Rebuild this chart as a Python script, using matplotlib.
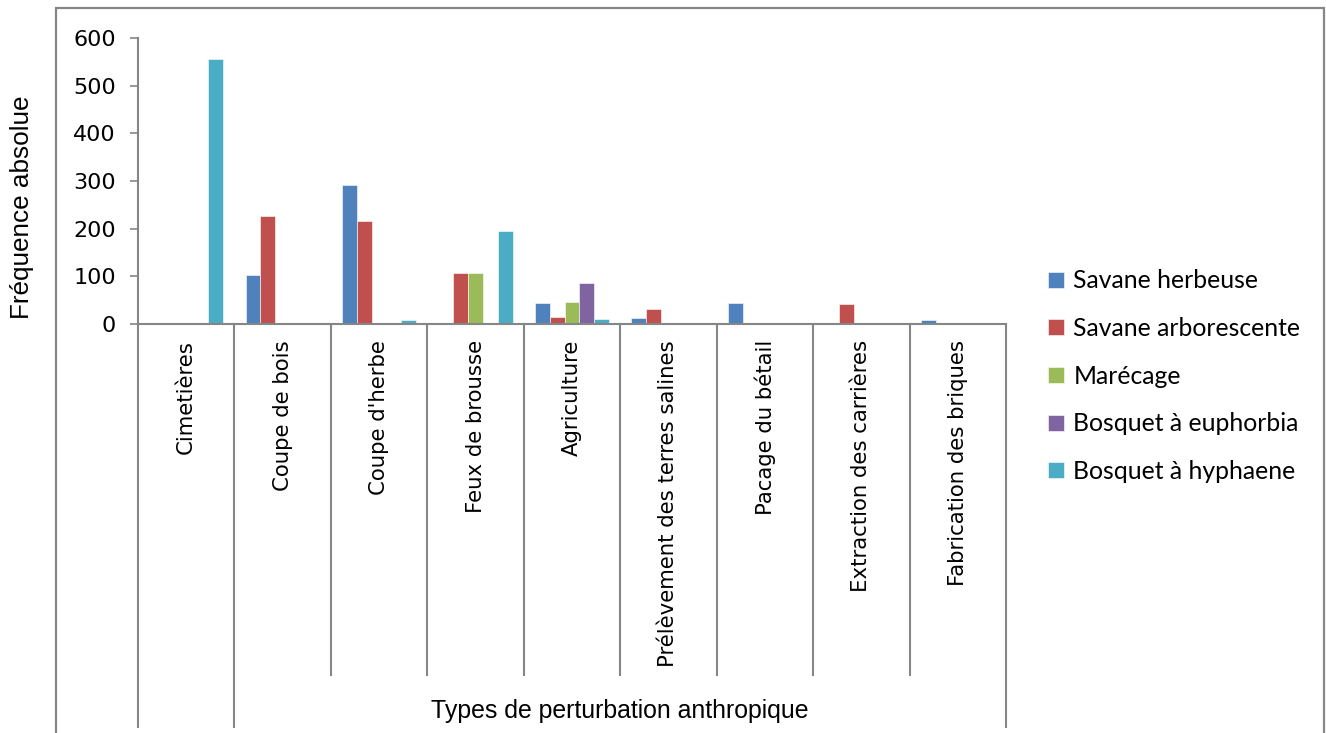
import numpy as np
import matplotlib
matplotlib.use("Agg")
import matplotlib.pyplot as plt
from matplotlib import font_manager
from matplotlib.patches import Rectangle
from matplotlib.transforms import blended_transform_factory

# types de perturbation et fréquences absolues par formation végétale
categories = ["Cimetières", "Coupe de bois", "Coupe d'herbe", "Feux de brousse",
              "Agriculture", "Prélèvement des terres salines", "Pacage du bétail",
              "Extraction des carrières", "Fabrication des briques"]
savane_herbeuse = [0, 103, 292, 0, 45, 13, 44, 0, 8]
savane_arborescente = [0, 227, 216, 106, 15, 32, 0, 41, 0]
marecage = [0, 0, 0, 107, 47, 0, 0, 0, 0]
bosquet_euphorbia = [0, 0, 0, 0, 85, 0, 0, 0, 0]
bosquet_hyphaene = [556, 0, 9, 195, 10, 0, 0, 0, 0]

series = [("Savane herbeuse", savane_herbeuse, "#4F81BD"),
          ("Savane arborescente", savane_arborescente, "#C0504D"),
          ("Marécage", marecage, "#9BBB59"),
          ("Bosquet à euphorbia", bosquet_euphorbia, "#8064A2"),
          ("Bosquet à hyphaene", bosquet_hyphaene, "#4BACC6")]

installed = {f.name for f in font_manager.fontManager.ttflist}
narrow = "Liberation Sans Narrow" if "Liberation Sans Narrow" in installed else "Liberation Sans"

W, H = 1326, 733
fig = plt.figure(figsize=(W / 100, H / 100), dpi=100)

def fx(px):
    return px / W

def fy(py):
    return 1 - py / H

ax = fig.add_axes([fx(138), fy(324), fx(1006) - fx(138), (324 - 38) / H])

x = np.arange(len(categories))
n = len(series)
width = 1 / 6.5
for i, (nom, vals, col) in enumerate(series):
    ax.bar(x + (i - (n - 1) / 2) * width, vals, width, color=col,
           edgecolor="white", linewidth=0.4, label=nom)

gris = "#868686"
ax.set_xlim(-0.5, len(categories) - 0.5)
ax.set_ylim(0, 600)
ax.set_yticks(range(0, 601, 100))
ax.set_xticks([])
for s in ["top", "right"]:
    ax.spines[s].set_visible(False)
ax.spines["left"].set_color(gris)
ax.spines["bottom"].set_color(gris)
ax.spines["left"].set_linewidth(1.5)
ax.spines["bottom"].set_linewidth(1.5)
ax.tick_params(axis="y", length=6, width=1.2, color=gris, pad=10,
               labelsize=16, labelcolor="black")
for t in ax.get_yticklabels():
    t.set_fontfamily("DejaVu Sans")

# séparateurs de catégories et étiquettes verticales
trans = blended_transform_factory(ax.transData, fig.transFigure)
for k in range(len(categories) + 1):
    xb = k - 0.5
    bas = 727 if k in (0, 1, len(categories)) else 675
    ax.plot([xb, xb], [fy(324), fy(bas)], transform=trans, color=gris,
            lw=1.5, clip_on=False)
for k, cat in enumerate(categories):
    ax.text(k, fy(340), cat, transform=trans, rotation=90, ha="center",
            va="top", fontsize=15.3, family="DejaVu Sans")

ax.text((1 + len(categories) - 1) / 2, fy(711), "Types de perturbation anthropique",
        transform=trans, ha="center", va="center", fontsize=17.9, family=narrow)
fig.text(fx(22), fy(207), "Fréquence absolue", rotation=90, ha="center",
         va="center", fontsize=18.8, family=narrow)

ax.legend(loc="upper left", bbox_to_anchor=(fx(1026), fy(247)),
          bbox_transform=fig.transFigure, frameon=False,
          handlelength=0.62, handleheight=0.62, handletextpad=0.4,
          labelspacing=1.0, prop={"family": "Lato", "size": 17.8})

# cadre du graphique
fig.patches.append(Rectangle((fx(56), fy(760)), fx(1324) - fx(56), fy(8) - fy(760),
                             transform=fig.transFigure, fill=False,
                             edgecolor=gris, lw=1.6))

fig.savefig("out.png", dpi=100)
